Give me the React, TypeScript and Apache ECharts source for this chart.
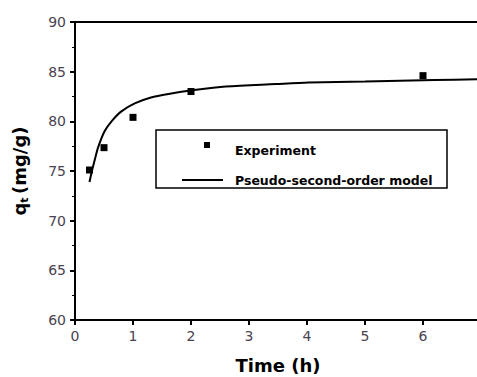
import React, { useEffect, useRef } from "react";
import * as echarts from "echarts";

const expTime = [0.25, 0.5, 1, 2, 6];
const expQ = [75.1, 77.35, 80.4, 83.0, 84.6];

const modelTime = [0.25, 0.3, 0.34, 0.4, 0.51, 0.63, 0.8, 1.03, 1.31, 1.66, 2.0, 2.6, 3.46, 4.03, 5.0, 6.2, 7.0];
const modelQ = [73.9, 75.2, 76.1, 77.4, 79.0, 80.0, 81.0, 81.8, 82.4, 82.8, 83.1, 83.5, 83.75, 83.9, 84.0, 84.15, 84.25];

const xTicks = [0, 7, 1];
const yTicks = [60, 90, 5];

const labelColor = "#4a4250";

export default function App() {
  const ref = useRef<HTMLDivElement>(null);
  useEffect(() => {
    if (!ref.current) return;
    const chart = echarts.init(ref.current, null, { renderer: "svg" });
    chart.setOption({
      animation: false,
      backgroundColor: "#fff",
      grid: {
        left: 75,
        top: 22,
        bottom: 57,
        right: -4,
        containLabel: false,
        outerBoundsMode: "none",
        show: true,
        borderColor: "#000",
        borderWidth: 2,
      },
      xAxis: {
        type: "value",
        min: xTicks[0],
        max: xTicks[1],
        interval: xTicks[2],
        name: "Time (h)",
        nameLocation: "middle",
        nameGap: 36,
        nameTextStyle: { fontFamily: "DejaVu Sans", fontWeight: "bold", fontSize: 18, color: "#000" },
        axisLine: { lineStyle: { color: "#000", width: 2 } },
        axisTick: { show: true, length: 5, lineStyle: { color: "#000", width: 2 } },
        axisLabel: { fontFamily: "DejaVu Sans", fontSize: 14, color: labelColor, margin: 9 },
        splitLine: { show: false },
      },
      yAxis: {
        type: "value",
        min: yTicks[0],
        max: yTicks[1],
        interval: yTicks[2],
        name: "{q|q}{t|t} {q|(mg/g)}",
        nameLocation: "middle",
        nameGap: 45,
        nameRotate: 90,
        nameTextStyle: {
          rich: {
            q: { fontFamily: "DejaVu Sans", fontWeight: "bold", fontSize: 18, color: "#000" },
            t: { fontFamily: "DejaVu Sans", fontWeight: "bold", fontSize: 11, color: "#000", padding: [10, 0, 0, 0] },
          },
        },
        axisLine: { lineStyle: { color: "#000", width: 2 } },
        axisTick: { show: true, length: 5, lineStyle: { color: "#000", width: 2 } },
        minorTick: { show: true, splitNumber: 2, length: 3, lineStyle: { color: "#000", width: 1 } },
        axisLabel: { fontFamily: "DejaVu Sans", fontSize: 14, color: labelColor, margin: 9 },
        splitLine: { show: false },
      },
      graphic: [
        {
          type: "rect",
          shape: { x: 156, y: 130, width: 291, height: 58 },
          style: { fill: "#fff", stroke: "#000", lineWidth: 1.5 },
          z: 10,
        },
        {
          type: "rect",
          shape: { x: 204, y: 142, width: 6, height: 6 },
          style: { fill: "#000" },
          z: 11,
        },
        {
          type: "line",
          shape: { x1: 182, y1: 180, x2: 223, y2: 180 },
          style: { stroke: "#000", lineWidth: 2 },
          z: 11,
        },
        {
          type: "text",
          x: 235,
          y: 150,
          style: { text: "Experiment", font: "bold 12.5px 'DejaVu Sans'", fill: "#000", verticalAlign: "middle" },
          z: 11,
        },
        {
          type: "text",
          x: 235,
          y: 180,
          style: { text: "Pseudo-second-order model", font: "bold 12.5px 'DejaVu Sans'", fill: "#000", verticalAlign: "middle" },
          z: 11,
        },
      ],
      series: [
        {
          type: "line",
          data: modelTime.map((t, i) => [t, modelQ[i]]),
          smooth: 0.3,
          showSymbol: false,
          lineStyle: { color: "#000", width: 2 },
          z: 2,
        },
        {
          type: "scatter",
          data: expTime.map((t, i) => [t, expQ[i]]),
          symbol: "rect",
          symbolSize: 7,
          itemStyle: { color: "#000", opacity: 1 },
          z: 3,
        },
      ],
    });
    return () => chart.dispose();
  }, []);
  return <div ref={ref} style={{ position: "fixed", left: 0, top: 0, width: 477, height: 377 }} />;
}
